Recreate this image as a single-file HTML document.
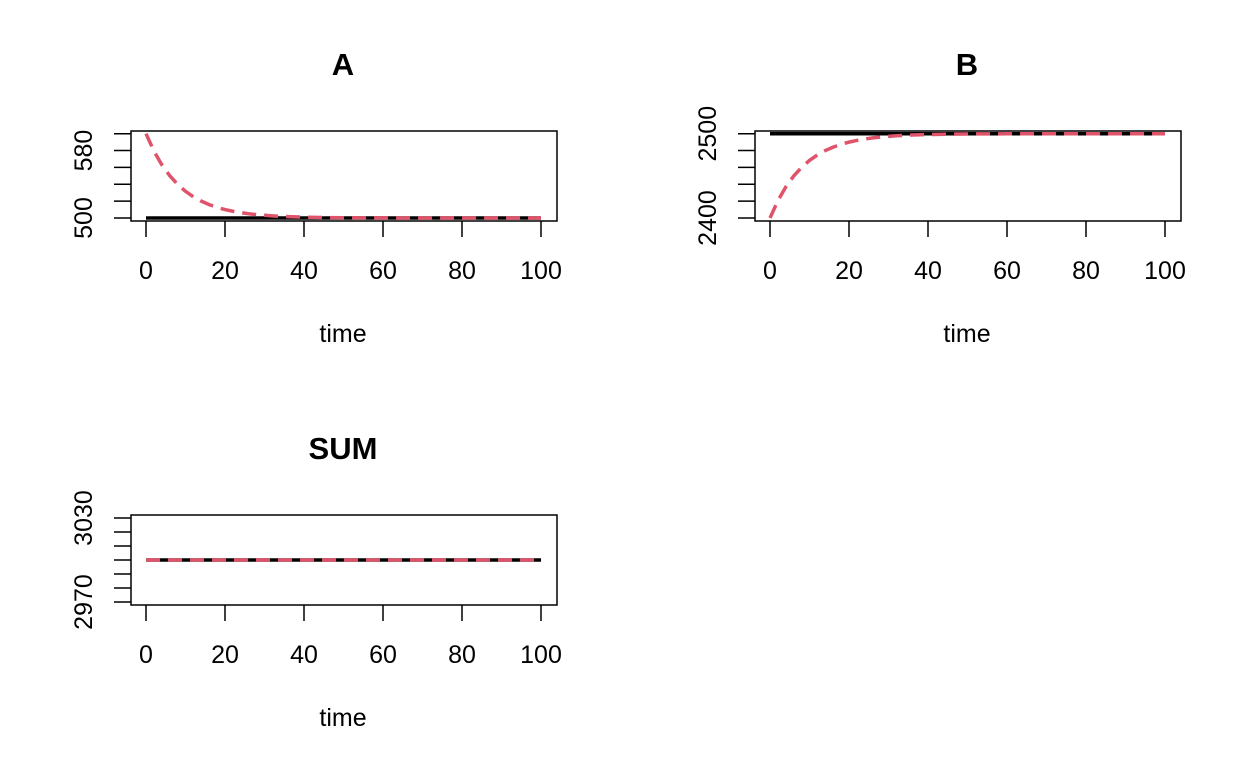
<!DOCTYPE html>
<html><head><meta charset="utf-8"><style>
body{margin:0;background:#fff}
svg{display:block;font-family:"Liberation Sans",sans-serif}
</style></head><body>
<svg id="c" width="1248" height="768" viewBox="0 0 1248 768" xmlns="http://www.w3.org/2000/svg"></svg>
<script>
const times=[0,2,4,6,8,10,12,14,16,18,20,22,24,26,28,30,32,34,36,38,40,45,50,55,60,65,70,75,80,85,90,95,100];
const aBlack=[500,500,500,500,500,500,500,500,500,500,500,500,500,500,500,500,500,500,500,500,500,500,500,500,500,500,500,500,500,500,500,500,500];
const aRed=[600,579.5,563.1,550.2,539.9,531.7,525.2,520,515.9,512.6,510,508,506.3,505,504,503.2,502.5,502,501.6,501.3,501,500.6,500.3,500.2,500.1,500,500,500,500,500,500,500,500];
const bBlack=[2500,2500,2500,2500,2500,2500,2500,2500,2500,2500,2500,2500,2500,2500,2500,2500,2500,2500,2500,2500,2500,2500,2500,2500,2500,2500,2500,2500,2500,2500,2500,2500,2500];
const bRed=[2400,2420.5,2436.9,2449.8,2460.1,2468.3,2474.8,2480,2484.1,2487.4,2490,2492,2493.7,2495,2496,2496.8,2497.5,2498,2498.4,2498.7,2499,2499.4,2499.7,2499.8,2499.9,2500,2500,2500,2500,2500,2500,2500,2500];
const sBlack=[3000,3000,3000,3000,3000,3000,3000,3000,3000,3000,3000,3000,3000,3000,3000,3000,3000,3000,3000,3000,3000,3000,3000,3000,3000,3000,3000,3000,3000,3000,3000,3000,3000];
const sRed=[3000,3000,3000,3000,3000,3000,3000,3000,3000,3000,3000,3000,3000,3000,3000,3000,3000,3000,3000,3000,3000,3000,3000,3000,3000,3000,3000,3000,3000,3000,3000,3000,3000];
const xTicks=[0,20,40,60,80,100];
const aTicks=[500,520,540,560,580,600];const aLabels=[500,580];
const bTicks=[2400,2420,2440,2460,2480,2500];const bLabels=[2400,2500];
const sTicks=[2970,2980,2990,3000,3010,3020,3030];const sLabels=[2970,3030];
const NS="http://www.w3.org/2000/svg";const svg=document.getElementById('c');
function mk(t,a,p){const e=document.createElementNS(NS,t);for(const k in a)e.setAttribute(k,a[k]);(p||svg).appendChild(e);return e;}
function panel(name,ox,oy,title,yt,yl,ymin,ymax,yTopPix,yBotPix,black,red){
 const g=mk('g',{});
 
 
 const L=ox+131,R=ox+557,T=oy+131,B=oy+221;
 const sx=v=>ox+146+(v-0)*(395/100);
 const sy=v=>yBotPix+(v-ymin)*(yTopPix-yBotPix)/(ymax-ymin)+oy;
 const tt=mk('text',{x:ox+343,y:oy+75,'text-anchor':'middle','font-size':'31','font-weight':'bold'},g);tt.textContent=title;
 
 
 const bx=mk('rect',{x:L,y:T,width:R-L,height:B-T,fill:'none',stroke:'#000','stroke-width':1.5},g);
 
 
 const xa=mk('g',{},g);
 
 
 xTicks.forEach(v=>{mk('line',{x1:sx(v),x2:sx(v),y1:B,y2:B+16,stroke:'#000','stroke-width':1.5},xa);
  const t=mk('text',{x:sx(v),y:B+58,'text-anchor':'middle','font-size':'25'},xa);t.textContent=v;});
 const xl=mk('text',{x:ox+343,y:oy+342,'text-anchor':'middle','font-size':'25'},g);xl.textContent='time';
 
 
 const ya=mk('g',{},g);
 
 
 yt.forEach(v=>mk('line',{x1:L-17,x2:L,y1:sy(v),y2:sy(v),stroke:'#000','stroke-width':1.5},ya));
 yl.forEach(v=>{const x=ox+92,y=sy(v);const t=mk('text',{x:x,y:y,'text-anchor':'middle','font-size':'25',transform:`rotate(-90 ${x} ${y})`},ya);t.textContent=v;});
 const pb=mk('polyline',{points:times.map((t,i)=>sx(t)+','+sy(black[i])).join(' '),fill:'none',stroke:'#000','stroke-width':3.5},g);
 
 
 const pr=mk('polyline',{points:times.map((t,i)=>sx(t)+','+sy(red[i])).join(' '),fill:'none',stroke:'#DF536B','stroke-width':3.5,'stroke-dasharray':'14 8'},g);
 
 
}
panel('a',0,0,'A',aTicks,aLabels,500,600,133.7,218,aBlack,aRed);
panel('b',624,0,'B',bTicks,bLabels,2400,2500,133.7,218,bBlack,bRed);
panel('sum',0,384,'SUM',sTicks,sLabels,2970,3030,134,218,sBlack,sRed);
</script>
</body></html>
